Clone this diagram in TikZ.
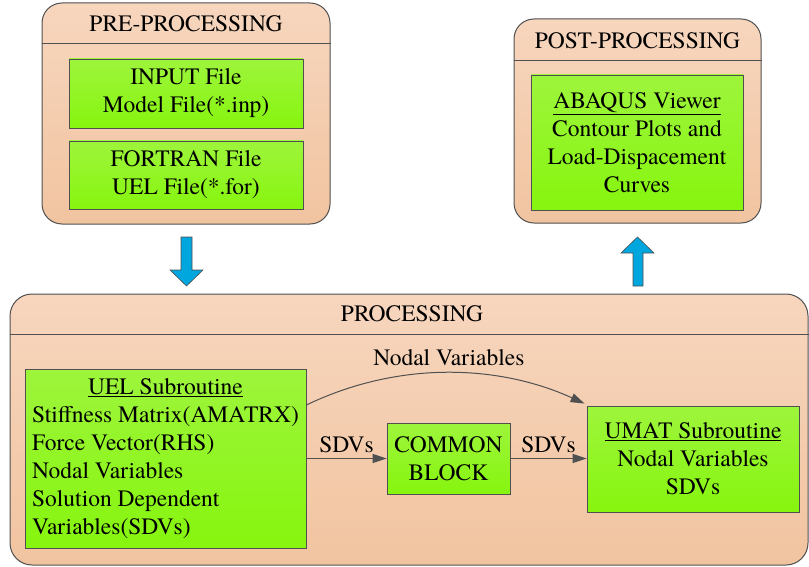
\documentclass[tikz,border=0pt]{standalone}
\usepackage{fontspec}
\setmainfont{TeX Gyre Termes}
\usetikzlibrary{arrows.meta}

\definecolor{peachtop}{RGB}{247,214,190}
\definecolor{peachbot}{RGB}{241,196,160}
\definecolor{limetop}{RGB}{158,245,60}
\definecolor{limebot}{RGB}{134,245,14}
\definecolor{edgegray}{RGB}{80,80,80}
\definecolor{arrowblue}{RGB}{0,166,222}

\begin{document}
\begin{tikzpicture}
  [x=1pt,y=-1pt,
   every node/.style={font=\fontsize{23.5}{28}\selectfont,text=black},
   panel/.style={draw=edgegray,line width=1pt,rounded corners=20pt,top color=peachtop,bottom color=peachbot},
   greenbox/.style={draw=edgegray,line width=.8pt,top color=limetop,bottom color=limebot,align=center,inner sep=0pt},
   flow/.style={draw=edgegray,line width=1pt,-{Triangle[length=14pt,width=9pt]}},
   bigarrow/.style={draw=edgegray,line width=.6pt,fill=arrowblue}]
  \useasboundingbox (0,0) rectangle (809,567);

  % the three stages
  \node[panel,minimum width=288pt,minimum height=221pt] (pre) at (186,113.5) {};
  \node[panel,minimum width=247pt,minimum height=204pt] (post) at (637.5,121) {};
  \node[panel,rounded corners=22pt,minimum width=798pt,minimum height=271pt] (proc) at (409,429.5) {};

  \draw[edgegray,line width=1pt] ([yshift=-41pt]pre.north west) -- ([yshift=-41pt]pre.north east);
  \draw[edgegray,line width=1pt] ([yshift=-42pt]post.north west) -- ([yshift=-42pt]post.north east);
  \draw[edgegray,line width=1pt] ([yshift=-41pt]proc.north west) -- ([yshift=-41pt]proc.north east);

  \node (pretitle) at (186,24) {PRE-PROCESSING};
  \node (posttitle) at (637.5,41) {POST-PROCESSING};
  \node (proctitle) at (412,314) {PROCESSING};

  \draw[bigarrow] (181,237) -- (192,237) -- (192,270) -- (203,270) -- (186.5,286) -- (170,270) -- (181,270) -- cycle;
  \draw[bigarrow] (633,286) -- (643,286) -- (643,253) -- (654,253) -- (637.5,237) -- (621,253) -- (633,253) -- cycle;

  % boxes
  \node[greenbox,minimum width=234pt,minimum height=69pt] (input) at (186,93.5) {INPUT File\\Model File(*.inp)};
  \node[greenbox,minimum width=234pt,minimum height=68pt] (fortran) at (186,175) {FORTRAN File\\UEL File(*.for)};
  \node[greenbox,minimum width=212pt,minimum height=135pt] (viewer) at (637,142.5)
    {\underline{ABAQUS Viewer}\\Contour Plots and\\Load-Dispacement\\Curves};
  \node[greenbox,minimum width=281pt,minimum height=179pt] (uel) at (165.5,458.5)
    {\begin{tabular}{@{}l@{}}
      \multicolumn{1}{c}{\underline{UEL Subroutine}}\\
      Stiffness Matrix(AMATRX)\\
      Force Vector(RHS)\\
      Nodal Variables\\
      Solution Dependent\\
      Variables(SDVs)
     \end{tabular}};
  \node[greenbox,minimum width=123pt,minimum height=71pt] (common) at (448.5,458.5) {COMMON\\BLOCK};
  \node[greenbox,minimum width=212pt,minimum height=106pt] (umat) at (693,459)
    {\underline{UMAT Subroutine}\\Nodal Variables\\SDVs};

  % data flow
  \draw[flow] (uel.east |- common.west) -- node[above=2pt] (sdvone) {SDVs} (common.west);
  \draw[flow] (common.east) -- node[above=2pt] (sdvtwo) {SDVs} (umat.west |- common.east);
  \coordinate (nvout) at ([yshift=53.5pt]uel.east);
  \draw[flow] (nvout) .. controls (400,360) and (500,365) .. ([shift={(-2pt,2pt)}]umat.north west)
    node[pos=.5,above=3pt] (nvlabel) {Nodal Variables};
\end{tikzpicture}
\end{document}
